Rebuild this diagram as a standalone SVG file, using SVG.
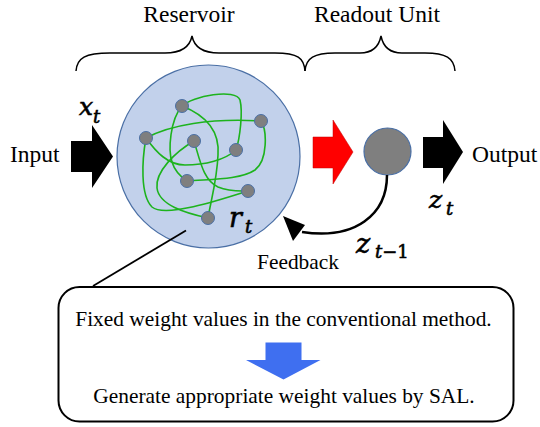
<svg xmlns="http://www.w3.org/2000/svg" width="540" height="427" viewBox="0 0 540 427">
<style>
.lbl{font-family:"Liberation Serif","Times New Roman",serif;font-size:23.5px;fill:#000}
.box{font-family:"Liberation Serif","Times New Roman",serif;font-size:21.4px;fill:#000}
.math{font-family:"DejaVu Serif",serif;font-style:italic;fill:#000;stroke:#000;stroke-width:0.6}
.up{font-style:normal}
.brace{fill:none;stroke:#000;stroke-width:1.5}
.syn{fill:none;stroke:#1db31d;stroke-width:1.6}
.neu{fill:#7f7f7f;stroke:#4a6fa5;stroke-width:1}
</style>
<rect width="540" height="427" fill="#fff"/>
<g id="braces">
<path class="brace" d="M76,71 C77,58 85,53 110,53 L165,53 C182,53 190,46 192,36 C194,46 202,53 219,53 L275,53 C298,53 304,58 305,71"/>
<path class="brace" d="M305,71 C306,58 314,53 335,53 L360,53 C373,53 379,46 381,36 C383,46 389,53 402,53 L425,53 C446,53 454,58 455,71"/>
<text class="lbl" x="189" y="22" text-anchor="middle">Reservoir</text>
<text class="lbl" x="377" y="22" text-anchor="middle">Readout Unit</text>
</g>
<g id="input">
<text class="lbl" x="10" y="162">Input</text>
<polygon points="71,141 92,141 92,125 113,156.5 92,188 92,172 71,172" fill="#000"/>
<text class="math" x="79" y="115" font-size="25">x</text>
<text class="math" x="93" y="123" font-size="18">t</text>
</g>
<g id="reservoir">
<circle cx="208.5" cy="156.5" r="91.5" fill="#c2d1eb" stroke="#4a6fa5" stroke-width="1.2"/>
<g id="synapses">
<path class="syn" d="M182,106 C192,96 236,88 240,100 C243,112 240,138 236,150"/>
<path class="syn" d="M182,106 C205,115 220,130 218,155 C217,180 211,200 208,218"/>
<path class="syn" d="M182,106 C170,120 168,150 172,162 C175,172 181,177 187,181"/>
<path class="syn" d="M146,138 C156,152 168,165 185,165 C205,165 225,160 236,150"/>
<path class="syn" d="M146,138 C170,125 210,118 261,121"/>
<path class="syn" d="M261,121 C267,130 268,160 255,170 C240,180 210,179 187,181"/>
<path class="syn" d="M146,138 C142,160 140,195 152,207 C165,218 220,200 248,191"/>
<path class="syn" d="M194,141 C175,152 155,172 157,188 C159,205 185,213 208,218"/>
<path class="syn" d="M194,141 C200,160 203,180 218,187 C230,192 240,191 248,191"/>
</g>
<circle class="neu" cx="182" cy="106" r="6.5"/>
<circle class="neu" cx="261" cy="121" r="6.5"/>
<circle class="neu" cx="146" cy="138" r="6.5"/>
<circle class="neu" cx="194" cy="141" r="6.5"/>
<circle class="neu" cx="236" cy="150" r="6.5"/>
<circle class="neu" cx="187" cy="181" r="6.5"/>
<circle class="neu" cx="248" cy="191" r="6.5"/>
<circle class="neu" cx="208" cy="218" r="6.5"/>
<text class="math" x="229" y="227" font-size="27">r</text>
<text class="math" x="245" y="233" font-size="18">t</text>
</g>
<g id="readout-arrow">
<polygon points="313,137 333,137 333,120 353,152 333,184 333,168 313,168" fill="#ff0000" stroke="#c00000" stroke-width="0.5"/>
</g>
<g id="readout">
<circle cx="387.5" cy="151.5" r="23.5" fill="#7f7f7f" stroke="#4a6fa5" stroke-width="1.2"/>
</g>
<g id="output">
<polygon points="423,137 443,137 443,120 463,152 443,184 443,168 423,168" fill="#000"/>
<text class="lbl" x="472" y="162">Output</text>
<text class="math" x="429" y="208" font-size="25">z</text>
<text class="math" x="446" y="215" font-size="18">t</text>
</g>
<g id="connectors">
<path d="M387,175 C387,215 355,240 302,232" fill="none" stroke="#000" stroke-width="2.5"/>
<polygon points="283,216 305,225 293,241" fill="#000"/>
<line x1="186" y1="230.5" x2="93" y2="286" stroke="#000" stroke-width="1.8"/>
</g>
<g id="feedback-label">
<text class="math" x="356" y="253" font-size="27">z</text>
<text class="math" x="375" y="258" font-size="18">t<tspan class="up">−1</tspan></text>
<text class="box" x="257" y="269">Feedback</text>
</g>
<g id="note">
<rect x="58.5" y="287" width="455" height="134.5" rx="21" fill="#fff" stroke="#000" stroke-width="2"/>
<text class="box" x="283.5" y="326" text-anchor="middle">Fixed weight values in the conventional method.</text>
<polygon points="265.5,342.5 301.5,342.5 301.5,360 320.5,360 283.5,379.5 246,360 265.5,360" fill="#3f6ff0"/>
<text class="box" x="284" y="403" text-anchor="middle">Generate appropriate weight values by SAL.</text>
</g>
</svg>
